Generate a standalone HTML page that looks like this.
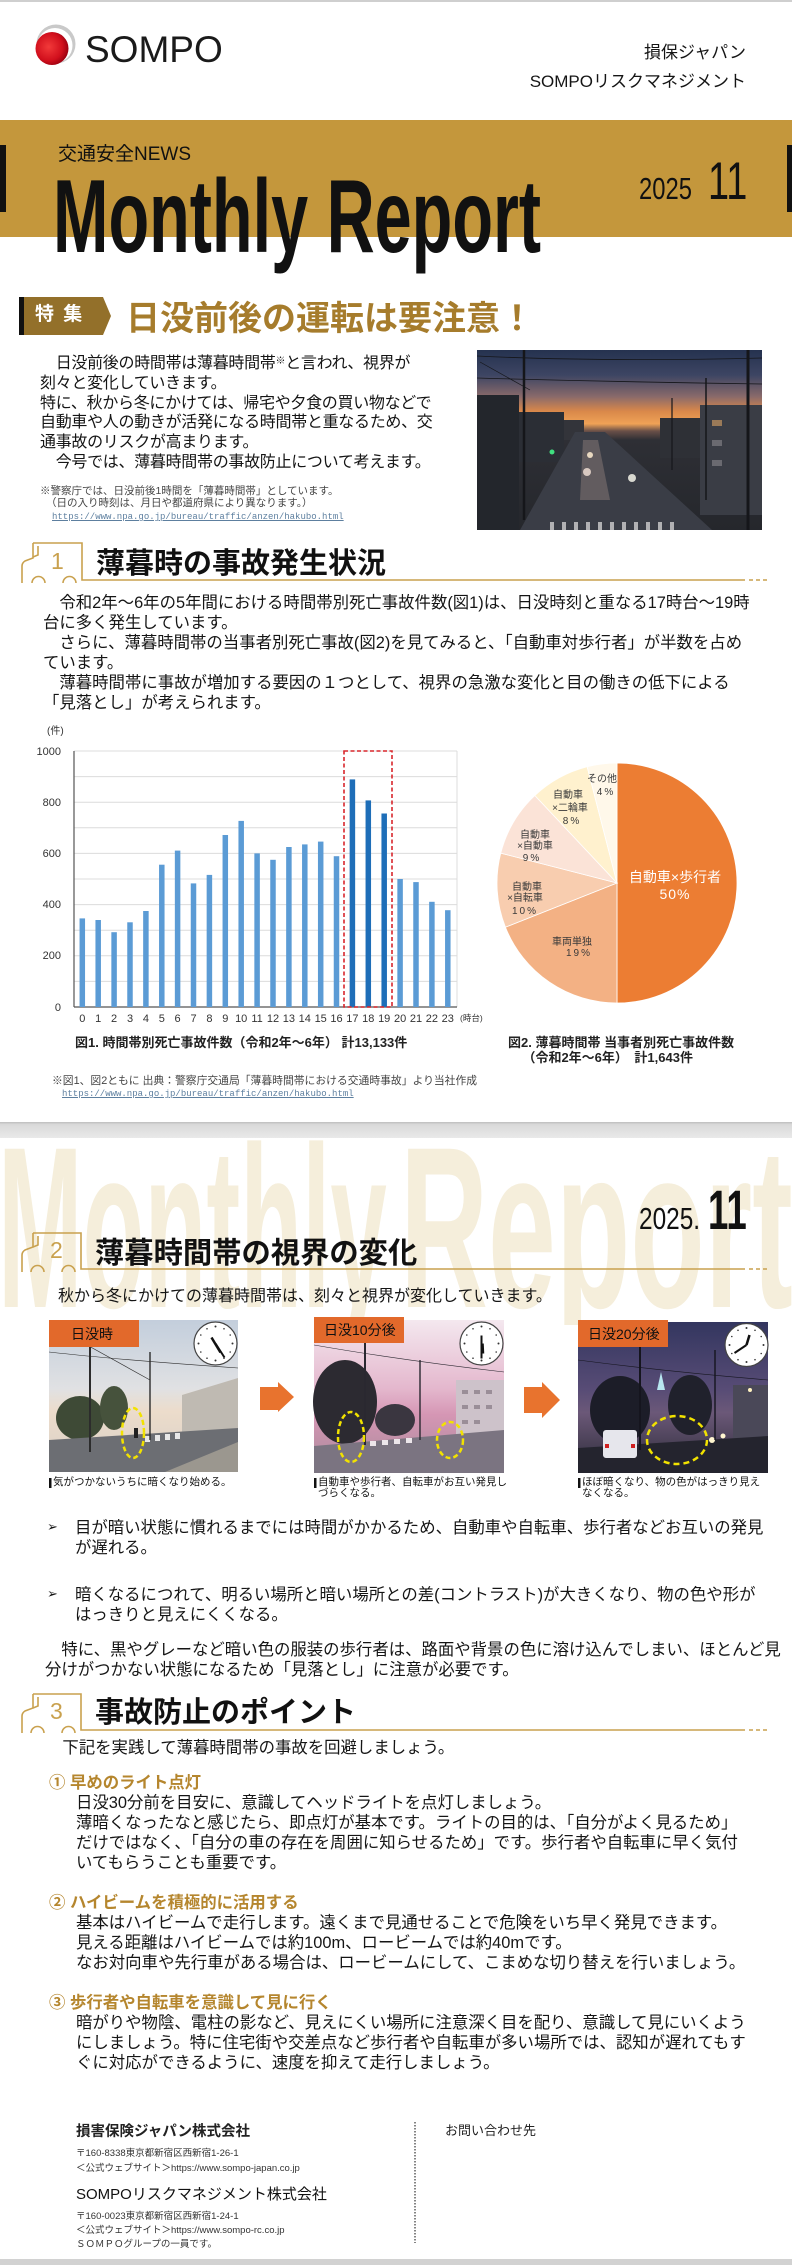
<!DOCTYPE html>
<html lang="ja"><head><meta charset="utf-8">
<style>
html,body{margin:0;padding:0;}
body{width:792px;height:2265px;position:relative;overflow:hidden;background:#fff;font-family:"Liberation Sans","Noto Sans CJK JP",sans-serif;color:#151515;}
.t{position:absolute;white-space:nowrap;}
svg{position:absolute;left:0;top:0;}
.lk{font-family:"Liberation Mono",monospace;font-size:9px;color:#5d7f9f;text-decoration:underline;}
</style></head><body>

<div class="t" style="left:0;top:1138px;width:792px;height:187px;overflow:hidden;">
 <div class="t" style="left:-2px;top:-25px;font-size:230px;line-height:230px;font-weight:bold;color:#F5EEDB;transform:scaleX(0.441);transform-origin:0 0;">Monthly</div>
 <div class="t" style="left:400px;top:-25px;font-size:230px;line-height:230px;font-weight:bold;color:#F5EEDB;transform:scaleX(0.53);transform-origin:0 0;">Report</div>
</div>

<svg width="792" height="2265" viewBox="0 0 792 2265" xmlns="http://www.w3.org/2000/svg">
<defs>
 <radialGradient id="red" cx="0.4" cy="0.45" r="0.6"><stop offset="0" stop-color="#f23a3a"/><stop offset="0.7" stop-color="#d10f1c"/><stop offset="1" stop-color="#9c0010"/></radialGradient>
 <linearGradient id="sky1" x1="0" y1="0" x2="0" y2="1"><stop offset="0" stop-color="#25324f"/><stop offset="0.14" stop-color="#3d4563"/><stop offset="0.26" stop-color="#8a6a6a"/><stop offset="0.34" stop-color="#d9884a"/><stop offset="0.41" stop-color="#efa256"/><stop offset="0.45" stop-color="#6a5048"/><stop offset="0.5" stop-color="#2e2f35"/><stop offset="1" stop-color="#25272c"/></linearGradient>
 <linearGradient id="skyA" x1="0" y1="0" x2="0" y2="1"><stop offset="0" stop-color="#c3cedc"/><stop offset="0.45" stop-color="#e0e1e3"/><stop offset="0.6" stop-color="#ecdccb"/><stop offset="1" stop-color="#d8d0c6"/></linearGradient>
 <linearGradient id="skyB" x1="0" y1="0" x2="0" y2="1"><stop offset="0" stop-color="#f4e8ef"/><stop offset="0.45" stop-color="#e4b7cd"/><stop offset="0.62" stop-color="#d596b4"/><stop offset="1" stop-color="#a88a9a"/></linearGradient>
 <linearGradient id="skyC" x1="0" y1="0" x2="0" y2="1"><stop offset="0" stop-color="#33365f"/><stop offset="0.45" stop-color="#584c76"/><stop offset="0.6" stop-color="#6b5878"/><stop offset="1" stop-color="#2a2a36"/></linearGradient>
 <linearGradient id="sep" x1="0" y1="0" x2="0" y2="1"><stop offset="0" stop-color="#bdbdbd"/><stop offset="0.15" stop-color="#d9d9d9"/><stop offset="1" stop-color="#e9e9e9"/></linearGradient>
</defs>

<!-- header -->
<rect x="0" y="0" width="792" height="2" fill="#cfcfcf"/>
<circle cx="56" cy="44" r="19.5" fill="#c9c9c9"/>
<circle cx="55" cy="45.5" r="17.5" fill="#fff"/>
<circle cx="52" cy="48.5" r="16.5" fill="url(#red)"/>
<rect x="0" y="120" width="792" height="117" fill="#C4973C"/>
<rect x="0" y="145" width="6" height="67" fill="#111"/>
<rect x="787" y="145" width="5" height="67" fill="#111"/>

<!-- 特集 -->
<polygon points="19,297 103,297 111,316 103,335 19,335" fill="#93702A"/>
<rect x="19" y="297" width="5" height="38" fill="#111"/>

<!-- header photo -->
<rect x="477" y="350" width="285" height="180" fill="url(#sky1)"/>
<rect x="477" y="395" width="42" height="135" fill="#23262c"/>
<rect x="519" y="412" width="45" height="50" fill="#2b2e35"/>
<rect x="564" y="420" width="20" height="20" fill="#33343a"/>
<rect x="660" y="418" width="40" height="40" fill="#2e3036"/>
<rect x="700" y="405" width="62" height="110" fill="#3a3d45"/>
<rect x="712" y="420" width="10" height="6" fill="#9a7a58"/>
<rect x="712" y="440" width="10" height="6" fill="#6a6a70"/>
<rect x="712" y="460" width="10" height="6" fill="#6a6a70"/>
<polygon points="575,432 605,432 712,530 520,530" fill="#3a3d46"/>
<polygon points="583,440 598,440 610,500 580,500" fill="#8a7c78" opacity="0.5"/>
<circle cx="590" cy="455" r="3" fill="#e8d8c0"/><circle cx="587" cy="472" r="4" fill="#d8c8c0"/><circle cx="632" cy="478" r="4" fill="#d8d8d0"/><circle cx="552" cy="452" r="2.5" fill="#40e080"/>
<g fill="#cfcfcf" opacity="0.8"><rect x="550" y="522" width="4" height="8"/><rect x="562" y="522" width="4" height="8"/><rect x="574" y="522" width="4" height="8"/><rect x="586" y="522" width="4" height="8"/><rect x="598" y="522" width="4" height="8"/><rect x="610" y="522" width="4" height="8"/><rect x="622" y="522" width="4" height="8"/><rect x="634" y="522" width="4" height="8"/><rect x="646" y="522" width="4" height="8"/><rect x="658" y="522" width="4" height="8"/><rect x="670" y="522" width="4" height="8"/></g>
<g stroke="#15161a" fill="none"><line x1="524" y1="350" x2="524" y2="520" stroke-width="2.5"/><line x1="748" y1="350" x2="748" y2="530" stroke-width="3"/><line x1="706" y1="378" x2="706" y2="500" stroke-width="1.5"/><line x1="672" y1="398" x2="672" y2="470" stroke-width="1.2"/><path d="M477,356 Q600,362 762,358" stroke-width="0.8"/><path d="M477,378 Q620,382 762,384" stroke-width="0.8"/><path d="M480,362 L530,390" stroke-width="0.7"/></g>

<!-- section icons -->
<g stroke="#C9A14E" stroke-width="1.6" fill="none">
 <path d="M33,543 L82,543 L82,580 L745,580"/>
 <path d="M33,543 L33,558 L25,561 Q22,563 22,566 L22,583"/>
 <path d="M38,546 L38,555 L33,557"/>
 <path d="M32,583 A6.5,6.5 0 0 1 45,583"/>
 <path d="M63,583 A6.5,6.5 0 0 1 76,583"/>
 <line x1="749" y1="580" x2="768" y2="580" stroke-dasharray="4 3"/>

 <path d="M33,1233 L81,1233 L81,1269 L745,1269"/>
 <path d="M33,1233 L33,1247 L25,1250 Q22,1252 22,1255 L22,1272"/>
 <path d="M38,1236 L38,1245 L33,1247"/>
 <path d="M31,1272 A6.5,6.5 0 0 1 44,1272"/>
 <path d="M62,1272 A6.5,6.5 0 0 1 75,1272"/>
 <line x1="749" y1="1269" x2="768" y2="1269" stroke-dasharray="4 3"/>

 <path d="M33,1694 L81,1694 L81,1730 L745,1730"/>
 <path d="M33,1694 L33,1708 L25,1711 Q22,1713 22,1716 L22,1733"/>
 <path d="M38,1697 L38,1706 L33,1708"/>
 <path d="M31,1733 A6.5,6.5 0 0 1 44,1733"/>
 <path d="M62,1733 A6.5,6.5 0 0 1 75,1733"/>
 <line x1="749" y1="1730" x2="768" y2="1730" stroke-dasharray="4 3"/>
</g>
<g fill="#C9A14E" font-family="Liberation Sans, sans-serif" font-size="23">
 <text x="51" y="569">1</text>
 <text x="50" y="1258">2</text>
 <text x="50" y="1719">3</text>
</g>

<!-- chart 1 -->
<text x="47" y="734" font-size="10" font-family="Liberation Sans, Noto Sans CJK JP, sans-serif" fill="#333">(件)</text>
<g stroke="#dcdcdc" stroke-width="1">
 <line x1="74" y1="981.4" x2="457" y2="981.4"/><line x1="74" y1="955.8" x2="457" y2="955.8"/><line x1="74" y1="930.2" x2="457" y2="930.2"/><line x1="74" y1="904.6" x2="457" y2="904.6"/><line x1="74" y1="879" x2="457" y2="879"/><line x1="74" y1="853.4" x2="457" y2="853.4"/><line x1="74" y1="827.8" x2="457" y2="827.8"/><line x1="74" y1="802.2" x2="457" y2="802.2"/><line x1="74" y1="776.6" x2="457" y2="776.6"/><line x1="74" y1="751" x2="457" y2="751"/>
 <line x1="457" y1="751" x2="457" y2="1007"/>
</g>
<line x1="74" y1="751" x2="74" y2="1007" stroke="#555" stroke-width="1.2"/>
<line x1="74" y1="1007" x2="457" y2="1007" stroke="#555" stroke-width="1.2"/>
<g font-family="Liberation Sans, sans-serif" font-size="11" fill="#333" text-anchor="end">
 <text x="61" y="755">1000</text><text x="61" y="806">800</text><text x="61" y="857">600</text><text x="61" y="908">400</text><text x="61" y="959">200</text><text x="61" y="1011">0</text>
</g>
<g fill="#5B9BD5">
 <rect x="79.55" y="918.4" width="5.5" height="88.6"/><rect x="95.45" y="920" width="5.5" height="87"/><rect x="111.35" y="932.2" width="5.5" height="74.8"/><rect x="127.25" y="922.3" width="5.5" height="84.7"/><rect x="143.15" y="911" width="5.5" height="96"/><rect x="159.05" y="864.7" width="5.5" height="142.3"/><rect x="174.85" y="850.6" width="5.5" height="156.4"/><rect x="190.75" y="883.4" width="5.5" height="123.6"/><rect x="206.65" y="874.9" width="5.5" height="132.1"/><rect x="222.55" y="835" width="5.5" height="172"/><rect x="238.45" y="820.9" width="5.5" height="186.1"/><rect x="254.35" y="853.4" width="5.5" height="153.6"/><rect x="270.25" y="859.8" width="5.5" height="147.2"/><rect x="286.15" y="847" width="5.5" height="160"/><rect x="302.05" y="844.4" width="5.5" height="162.6"/><rect x="317.95" y="841.6" width="5.5" height="165.4"/><rect x="333.75" y="856.2" width="5.5" height="150.8"/>
 <rect x="397.35" y="879" width="5.5" height="128"/><rect x="413.25" y="882.1" width="5.5" height="124.9"/><rect x="429.15" y="901.8" width="5.5" height="105.2"/><rect x="445.05" y="910.2" width="5.5" height="96.8"/>
</g>
<g fill="#1E6EB8">
 <rect x="349.65" y="779.4" width="5.5" height="227.6"/><rect x="365.55" y="800.4" width="5.5" height="206.6"/><rect x="381.45" y="813.5" width="5.5" height="193.5"/>
</g>
<rect x="344" y="751" width="48" height="256" fill="none" stroke="#D8262C" stroke-width="1.6" stroke-dasharray="4 2.5"/>
<g font-family="Liberation Sans, sans-serif" font-size="11" fill="#333" text-anchor="middle">
 <text x="82.3" y="1022">0</text><text x="98.2" y="1022">1</text><text x="114.1" y="1022">2</text><text x="130" y="1022">3</text><text x="145.9" y="1022">4</text><text x="161.8" y="1022">5</text><text x="177.6" y="1022">6</text><text x="193.5" y="1022">7</text><text x="209.4" y="1022">8</text><text x="225.3" y="1022">9</text><text x="241.2" y="1022">10</text><text x="257.1" y="1022">11</text><text x="273" y="1022">12</text><text x="288.9" y="1022">13</text><text x="304.8" y="1022">14</text><text x="320.7" y="1022">15</text><text x="336.5" y="1022">16</text><text x="352.4" y="1022">17</text><text x="368.3" y="1022">18</text><text x="384.2" y="1022">19</text><text x="400.1" y="1022">20</text><text x="416" y="1022">21</text><text x="431.9" y="1022">22</text><text x="447.8" y="1022">23</text>
</g>
<text x="460" y="1021" font-size="8.5" font-family="Liberation Sans, Noto Sans CJK JP, sans-serif" fill="#333">(時台)</text>

<!-- pie -->
<g stroke="#fff" stroke-width="0.8">
 <path d="M617,883 L617,763 A120,120 0 0 1 617,1003 Z" fill="#EC7D33"/>
 <path d="M617,883 L617,1003 A120,120 0 0 1 505.42,927.17 Z" fill="#F3B184"/>
 <path d="M617,883 L505.42,927.17 A120,120 0 0 1 500.77,853.16 Z" fill="#F8CDAF"/>
 <path d="M617,883 L500.77,853.16 A120,120 0 0 1 534.86,795.52 Z" fill="#FBE3D7"/>
 <path d="M617,883 L534.86,795.52 A120,120 0 0 1 587.16,766.77 Z" fill="#FFF1CE"/>
 <path d="M617,883 L587.16,766.77 A120,120 0 0 1 617,763 Z" fill="#FFF8EA"/>
</g>
<g font-family="Liberation Sans, Noto Sans CJK JP, sans-serif" text-anchor="middle">
 <text x="675" y="882" font-size="14" fill="#fff">自動車×歩行者</text>
 <text x="675" y="899" font-size="14" fill="#fff" letter-spacing="1">50%</text>
 <g font-size="10" fill="#3a3a3a">
  <text x="572" y="945">車両単独</text><text x="579" y="956" letter-spacing="2">19%</text>
  <text x="527" y="890">自動車</text><text x="525" y="901">×自転車</text><text x="525" y="914" letter-spacing="2">10%</text>
  <text x="535" y="838">自動車</text><text x="535" y="849">×自動車</text><text x="532" y="861" letter-spacing="2">9%</text>
  <text x="568" y="798">自動車</text><text x="570" y="811">×二輪車</text><text x="572" y="824" letter-spacing="2">8%</text>
  <text x="602" y="782">その他</text><text x="606" y="795" letter-spacing="2">4%</text>
 </g>
</g>

<!-- page separator -->
<rect x="0" y="1122" width="792" height="16" fill="url(#sep)"/>

<!-- panel 1 -->
<rect x="49" y="1320" width="189" height="152" fill="url(#skyA)"/>
<ellipse cx="80" cy="1418" rx="24" ry="22" fill="#3e4a36"/>
<ellipse cx="114" cy="1408" rx="14" ry="22" fill="#46523c"/>
<polygon points="182,1395 238,1378 238,1452 182,1452" fill="#bfbab2"/>
<polygon points="49,1440 238,1428 238,1472 49,1472" fill="#6c6e73"/>
<polygon points="165,1472 238,1442 238,1472" fill="#9b978f"/>
<g fill="#e8e8e8"><rect x="145" y="1436" width="5" height="6"/><rect x="155" y="1435" width="5" height="6"/><rect x="165" y="1434" width="5" height="6"/><rect x="175" y="1433" width="5" height="6"/></g>
<g stroke="#2c2c2c" fill="none"><line x1="90" y1="1330" x2="90" y2="1452" stroke-width="2"/><line x1="150" y1="1352" x2="150" y2="1440" stroke-width="1.4"/><path d="M49,1352 Q120,1360 238,1368" stroke-width="0.6"/><path d="M60,1330 L150,1380" stroke-width="0.6"/></g>
<rect x="134" y="1428" width="4" height="10" fill="#222"/>
<ellipse cx="133" cy="1433" rx="11" ry="25" fill="none" stroke="#F2E200" stroke-width="2.5" stroke-dasharray="5 3"/>
<rect x="49" y="1320" width="90" height="27" fill="#E2692B"/>
<g transform="translate(215.5,1343.5)"><circle r="21.5" fill="#fff" stroke="#444" stroke-width="1.2"/><g fill="#333"><circle cx="0" cy="-17" r="1"/><circle cx="8.5" cy="-14.7" r="0.8"/><circle cx="14.7" cy="-8.5" r="0.8"/><circle cx="17" cy="0" r="1"/><circle cx="14.7" cy="8.5" r="0.8"/><circle cx="8.5" cy="14.7" r="0.8"/><circle cx="0" cy="17" r="1"/><circle cx="-8.5" cy="14.7" r="0.8"/><circle cx="-14.7" cy="8.5" r="0.8"/><circle cx="-17" cy="0" r="1"/><circle cx="-14.7" cy="-8.5" r="0.8"/><circle cx="-8.5" cy="-14.7" r="0.8"/></g><line x1="0" y1="0" x2="9" y2="14" stroke="#111" stroke-width="2"/><line x1="-4" y1="-6" x2="5" y2="9" stroke="#111" stroke-width="2.5"/></g>

<!-- panel 2 -->
<rect x="314" y="1320" width="190" height="153" fill="url(#skyB)"/>
<ellipse cx="345" cy="1402" rx="32" ry="42" fill="#2c2a31"/>
<ellipse cx="395" cy="1420" rx="20" ry="16" fill="#3a3640"/>
<rect x="456" y="1380" width="48" height="70" fill="#cdc2ca"/>
<g fill="#9a8e98"><rect x="462" y="1390" width="6" height="4"/><rect x="474" y="1390" width="6" height="4"/><rect x="486" y="1390" width="6" height="4"/><rect x="462" y="1405" width="6" height="4"/><rect x="474" y="1405" width="6" height="4"/><rect x="486" y="1405" width="6" height="4"/><rect x="462" y="1420" width="6" height="4"/><rect x="474" y="1420" width="6" height="4"/></g>
<polygon points="314,1446 504,1430 504,1473 314,1473" fill="#7b7481"/>
<g fill="#ece6ea"><rect x="370" y="1441" width="6" height="5"/><rect x="382" y="1440" width="6" height="5"/><rect x="394" y="1439" width="6" height="5"/><rect x="406" y="1438" width="6" height="5"/></g>
<g stroke="#2a2830" fill="none"><line x1="365" y1="1335" x2="365" y2="1445" stroke-width="2"/><line x1="420" y1="1360" x2="420" y2="1440" stroke-width="1.4"/><path d="M314,1345 Q400,1360 504,1372" stroke-width="0.6"/></g>
<ellipse cx="351" cy="1437" rx="13" ry="25" fill="none" stroke="#F2E200" stroke-width="2.5" stroke-dasharray="5 3"/>
<ellipse cx="450" cy="1440" rx="13" ry="18" fill="none" stroke="#F2E200" stroke-width="2.5" stroke-dasharray="5 3"/>
<rect x="314" y="1317" width="90" height="26" fill="#E2692B"/>
<g transform="translate(481.5,1343.5)"><circle r="21.5" fill="#fff" stroke="#444" stroke-width="1.2"/><g fill="#333"><circle cx="0" cy="-17" r="1"/><circle cx="8.5" cy="-14.7" r="0.8"/><circle cx="14.7" cy="-8.5" r="0.8"/><circle cx="17" cy="0" r="1"/><circle cx="14.7" cy="8.5" r="0.8"/><circle cx="8.5" cy="14.7" r="0.8"/><circle cx="0" cy="17" r="1"/><circle cx="-8.5" cy="14.7" r="0.8"/><circle cx="-14.7" cy="8.5" r="0.8"/><circle cx="-17" cy="0" r="1"/><circle cx="-14.7" cy="-8.5" r="0.8"/><circle cx="-8.5" cy="-14.7" r="0.8"/></g><line x1="0" y1="-8" x2="0" y2="15" stroke="#111" stroke-width="2"/><line x1="1" y1="0" x2="1.5" y2="10" stroke="#111" stroke-width="2.5"/></g>

<!-- panel 3 -->
<rect x="578" y="1322" width="190" height="151" fill="url(#skyC)"/>
<ellipse cx="620" cy="1410" rx="30" ry="34" fill="#1c1d28"/>
<ellipse cx="690" cy="1405" rx="22" ry="30" fill="#20212c"/>
<rect x="733" y="1385" width="35" height="65" fill="#4a4858"/>
<polygon points="578,1448 768,1436 768,1473 578,1473" fill="#24242e"/>
<rect x="603" y="1430" width="34" height="28" rx="3" fill="#e6e6ec"/>
<rect x="605" y="1444" width="4" height="4" fill="#d02020"/><rect x="631" y="1444" width="4" height="4" fill="#d02020"/>
<circle cx="712" cy="1440" r="3" fill="#fff6d0"/><circle cx="723" cy="1436" r="2.5" fill="#fff6d0"/><circle cx="750" cy="1390" r="2" fill="#fff2c0"/>
<polygon points="657,1390 661,1372 665,1390" fill="#b8e6f0"/>
<g stroke="#15151e" fill="none"><line x1="640" y1="1335" x2="640" y2="1450" stroke-width="2"/><line x1="715" y1="1350" x2="715" y2="1440" stroke-width="1.4"/><path d="M578,1360 Q670,1372 768,1380" stroke-width="0.6"/></g>
<ellipse cx="677" cy="1440" rx="30" ry="24" fill="none" stroke="#F2E200" stroke-width="2.5" stroke-dasharray="6 4"/>
<rect x="578" y="1320" width="90" height="27" fill="#E2692B"/>
<g transform="translate(746.5,1345)"><circle r="21.5" fill="#fff" stroke="#444" stroke-width="1.2"/><g fill="#333"><circle cx="0" cy="-17" r="1"/><circle cx="8.5" cy="-14.7" r="0.8"/><circle cx="14.7" cy="-8.5" r="0.8"/><circle cx="17" cy="0" r="1"/><circle cx="14.7" cy="8.5" r="0.8"/><circle cx="8.5" cy="14.7" r="0.8"/><circle cx="0" cy="17" r="1"/><circle cx="-8.5" cy="14.7" r="0.8"/><circle cx="-14.7" cy="8.5" r="0.8"/><circle cx="-17" cy="0" r="1"/><circle cx="-14.7" cy="-8.5" r="0.8"/><circle cx="-8.5" cy="-14.7" r="0.8"/></g><line x1="0" y1="0" x2="-12" y2="8" stroke="#111" stroke-width="2"/><line x1="0" y1="0" x2="3" y2="-10" stroke="#111" stroke-width="2.5"/></g>

<!-- arrows -->
<polygon points="260,1387 278,1387 278,1382 294,1397 278,1412 278,1410 260,1410" fill="#E8732E"/>
<polygon points="524,1387 542,1387 542,1382 560,1400 542,1418 542,1413 524,1413" fill="#E8732E"/>

<!-- caption bars -->
<rect x="49" y="1478" width="2.5" height="10" fill="#111"/>
<rect x="314" y="1478" width="2.5" height="10" fill="#111"/>
<rect x="578" y="1478" width="2.5" height="10" fill="#111"/>

<!-- footer -->
<line x1="415" y1="2122" x2="415" y2="2243" stroke="#333" stroke-width="1.2" stroke-dasharray="1.5 1.5"/>
<rect x="0" y="2259" width="792" height="6" fill="#d2d2d2"/>
</svg>

<!-- header text -->
<div class="t" style="left:85px;top:31px;font-size:37px;line-height:37px;color:#1a1a1a;">SOMPO</div>
<div class="t" style="right:46px;top:43px;font-size:17px;line-height:20px;">損保ジャパン</div>
<div class="t" style="right:46px;top:72px;font-size:17px;line-height:20px;">SOMPOリスクマネジメント</div>
<div class="t" style="left:58px;top:144px;font-size:19px;line-height:22px;color:#111;">交通安全NEWS</div>
<div class="t" style="left:53px;top:165px;font-size:104px;line-height:104px;font-weight:bold;color:#111;transform:scaleX(0.64);transform-origin:0 0;">Monthly Report</div>
<div class="t" style="left:639px;top:174px;font-size:30.5px;line-height:30.5px;color:#111;transform:scaleX(0.78);transform-origin:0 0;">2025</div>
<div class="t" style="left:708px;top:155px;font-size:53px;line-height:53px;color:#111;transform:scaleX(0.715);transform-origin:0 0;">11</div>

<!-- 特集 -->
<div class="t" style="left:35px;top:305px;font-size:19px;line-height:20px;color:#fff;font-weight:bold;letter-spacing:2px;">特 集</div>
<div class="t" style="left:126px;top:301px;font-size:34px;line-height:36px;color:#A67C2C;font-weight:bold;">日没前後の運転は要注意！</div>

<div class="t" style="left:40px;top:352px;font-size:16px;line-height:19.8px;letter-spacing:-0.3px;">　日没前後の時間帯は薄暮時間帯<span style="font-size:10px;vertical-align:4px;">※</span>と言われ、視界が<br>刻々と変化していきます。<br>特に、秋から冬にかけては、帰宅や夕食の買い物などで<br>自動車や人の動きが活発になる時間帯と重なるため、交<br>通事故のリスクが高まります。<br>　今号では、薄暮時間帯の事故防止について考えます。</div>
<div class="t" style="left:40px;top:485px;font-size:10.5px;line-height:13px;color:#444;">※警察庁では、日没前後1時間を「薄暮時間帯」としています。</div>
<div class="t" style="left:46px;top:497px;font-size:10.5px;line-height:13px;color:#444;">（日の入り時刻は、月日や都道府県により異なります。）</div>
<div class="t lk" style="left:52px;top:511px;line-height:12px;">https://www.npa.go.jp/bureau/traffic/anzen/hakubo.html</div>

<!-- section 1 -->
<div class="t" style="left:96px;top:549px;font-size:29px;line-height:31px;font-weight:bold;color:#111;">薄暮時の事故発生状況</div>
<div class="t" style="left:43px;top:593px;font-size:16.4px;line-height:20px;">　令和2年～6年の5年間における時間帯別死亡事故件数(図1)は、日没時刻と重なる17時台～19時<br>台に多く発生しています。<br>　さらに、薄暮時間帯の当事者別死亡事故(図2)を見てみると、「自動車対歩行者」が半数を占め<br>ています。<br>　薄暮時間帯に事故が増加する要因の１つとして、視界の急激な変化と目の働きの低下による<br>「見落とし」が考えられます。</div>

<div class="t" style="left:75px;top:1035px;font-size:13px;line-height:16px;font-weight:bold;color:#222;">図1. 時間帯別死亡事故件数（令和2年～6年） 計13,133件</div>
<div class="t" style="left:508px;top:1035px;font-size:13px;line-height:15px;font-weight:bold;color:#222;">図2. 薄暮時間帯 当事者別死亡事故件数<br>&nbsp;&nbsp;&nbsp;&nbsp;（令和2年～6年）　計1,643件</div>
<div class="t" style="left:52px;top:1074px;font-size:10.8px;line-height:14px;color:#444;">※図1、図2ともに 出典：警察庁交通局「薄暮時間帯における交通時事故」より当社作成</div>
<div class="t lk" style="left:62px;top:1088px;line-height:12px;">https://www.npa.go.jp/bureau/traffic/anzen/hakubo.html</div>

<!-- page 2 header -->
<div class="t" style="left:639px;top:1204px;font-size:30.5px;line-height:30.5px;color:#111;transform:scaleX(0.8);transform-origin:0 0;">2025.</div>
<div class="t" style="left:708px;top:1183px;font-size:55.5px;line-height:55.5px;font-weight:bold;color:#111;transform:scaleX(0.66);transform-origin:0 0;">11</div>

<!-- section 2 -->
<div class="t" style="left:95px;top:1238px;font-size:29.3px;line-height:31px;font-weight:bold;color:#111;">薄暮時間帯の視界の変化</div>
<div class="t" style="left:58px;top:1287px;font-size:16px;line-height:20px;">秋から冬にかけての薄暮時間帯は、刻々と視界が変化していきます。</div>

<div class="t" style="left:71px;top:1324px;font-size:14px;line-height:20px;color:#111;">日没時</div>
<div class="t" style="left:324px;top:1320px;font-size:14px;line-height:20px;color:#111;">日没10分後</div>
<div class="t" style="left:588px;top:1324px;font-size:14px;line-height:20px;color:#111;">日没20分後</div>

<div class="t" style="left:53px;top:1477px;font-size:10.5px;line-height:11px;color:#111;">気がつかないうちに暗くなり始める。</div>
<div class="t" style="left:318px;top:1477px;font-size:10.5px;line-height:10.6px;color:#111;">自動車や歩行者、自転車がお互い発見し<br>づらくなる。</div>
<div class="t" style="left:582px;top:1477px;font-size:10.5px;line-height:10.6px;color:#111;">ほぼ暗くなり、物の色がはっきり見え<br>なくなる。</div>

<div class="t" style="left:47px;top:1519px;font-size:13px;line-height:18px;font-family:'DejaVu Sans',sans-serif;">➢</div>
<div class="t" style="left:75px;top:1518px;font-size:16.4px;line-height:20px;">目が暗い状態に慣れるまでには時間がかかるため、自動車や自転車、歩行者などお互いの発見<br>が遅れる。</div>
<div class="t" style="left:47px;top:1586px;font-size:13px;line-height:18px;font-family:'DejaVu Sans',sans-serif;">➢</div>
<div class="t" style="left:75px;top:1585px;font-size:16.4px;line-height:20px;">暗くなるにつれて、明るい場所と暗い場所との差(コントラスト)が大きくなり、物の色や形が<br>はっきりと見えにくくなる。</div>
<div class="t" style="left:45px;top:1640px;font-size:16.4px;line-height:20px;">　特に、黒やグレーなど暗い色の服装の歩行者は、路面や背景の色に溶け込んでしまい、ほとんど見<br>分けがつかない状態になるため「見落とし」に注意が必要です。</div>

<!-- section 3 -->
<div class="t" style="left:95px;top:1698px;font-size:29px;line-height:31px;font-weight:bold;color:#111;">事故防止のポイント</div>
<div class="t" style="left:46px;top:1738px;font-size:16.4px;line-height:20px;">　下記を実践して薄暮時間帯の事故を回避しましょう。</div>

<div class="t" style="left:49px;top:1773px;font-size:16.4px;line-height:20px;color:#B5862E;font-weight:bold;">①&nbsp;早めのライト点灯</div>
<div class="t" style="left:76px;top:1793px;font-size:16.4px;line-height:20px;">日没30分前を目安に、意識してヘッドライトを点灯しましょう。<br>薄暗くなったなと感じたら、即点灯が基本です。ライトの目的は、「自分がよく見るため」<br>だけではなく、「自分の車の存在を周囲に知らせるため」です。歩行者や自転車に早く気付<br>いてもらうことも重要です。</div>

<div class="t" style="left:49px;top:1893px;font-size:16.4px;line-height:20px;color:#B5862E;font-weight:bold;">②&nbsp;ハイビームを積極的に活用する</div>
<div class="t" style="left:76px;top:1913px;font-size:16.4px;line-height:20px;">基本はハイビームで走行します。遠くまで見通せることで危険をいち早く発見できます。<br>見える距離はハイビームでは約100m、ロービームでは約40mです。<br>なお対向車や先行車がある場合は、ロービームにして、こまめな切り替えを行いましょう。</div>

<div class="t" style="left:49px;top:1993px;font-size:16.4px;line-height:20px;color:#B5862E;font-weight:bold;">③&nbsp;歩行者や自転車を意識して見に行く</div>
<div class="t" style="left:76px;top:2013px;font-size:16.4px;line-height:20px;">暗がりや物陰、電柱の影など、見えにくい場所に注意深く目を配り、意識して見にいくよう<br>にしましょう。特に住宅街や交差点など歩行者や自転車が多い場所では、認知が遅れてもす<br>ぐに対応ができるように、速度を抑えて走行しましょう。</div>

<!-- footer -->
<div class="t" style="left:76px;top:2122px;font-size:14.5px;line-height:20px;font-weight:bold;color:#222;">損害保険ジャパン株式会社</div>
<div class="t" style="left:76px;top:2146px;font-size:9.5px;line-height:15px;color:#333;">〒160-8338東京都新宿区西新宿1-26-1<br>＜公式ウェブサイト＞https://www.sompo-japan.co.jp</div>
<div class="t" style="left:76px;top:2185px;font-size:15px;line-height:20px;color:#111;">SOMPOリスクマネジメント株式会社</div>
<div class="t" style="left:76px;top:2210px;font-size:9.5px;line-height:14px;color:#333;">〒160-0023東京都新宿区西新宿1-24-1<br>＜公式ウェブサイト＞https://www.sompo-rc.co.jp<br>ＳＯＭＰＯグループの一員です。</div>
<div class="t" style="left:445px;top:2122px;font-size:13px;line-height:18px;color:#222;">お問い合わせ先</div>

</body></html>
